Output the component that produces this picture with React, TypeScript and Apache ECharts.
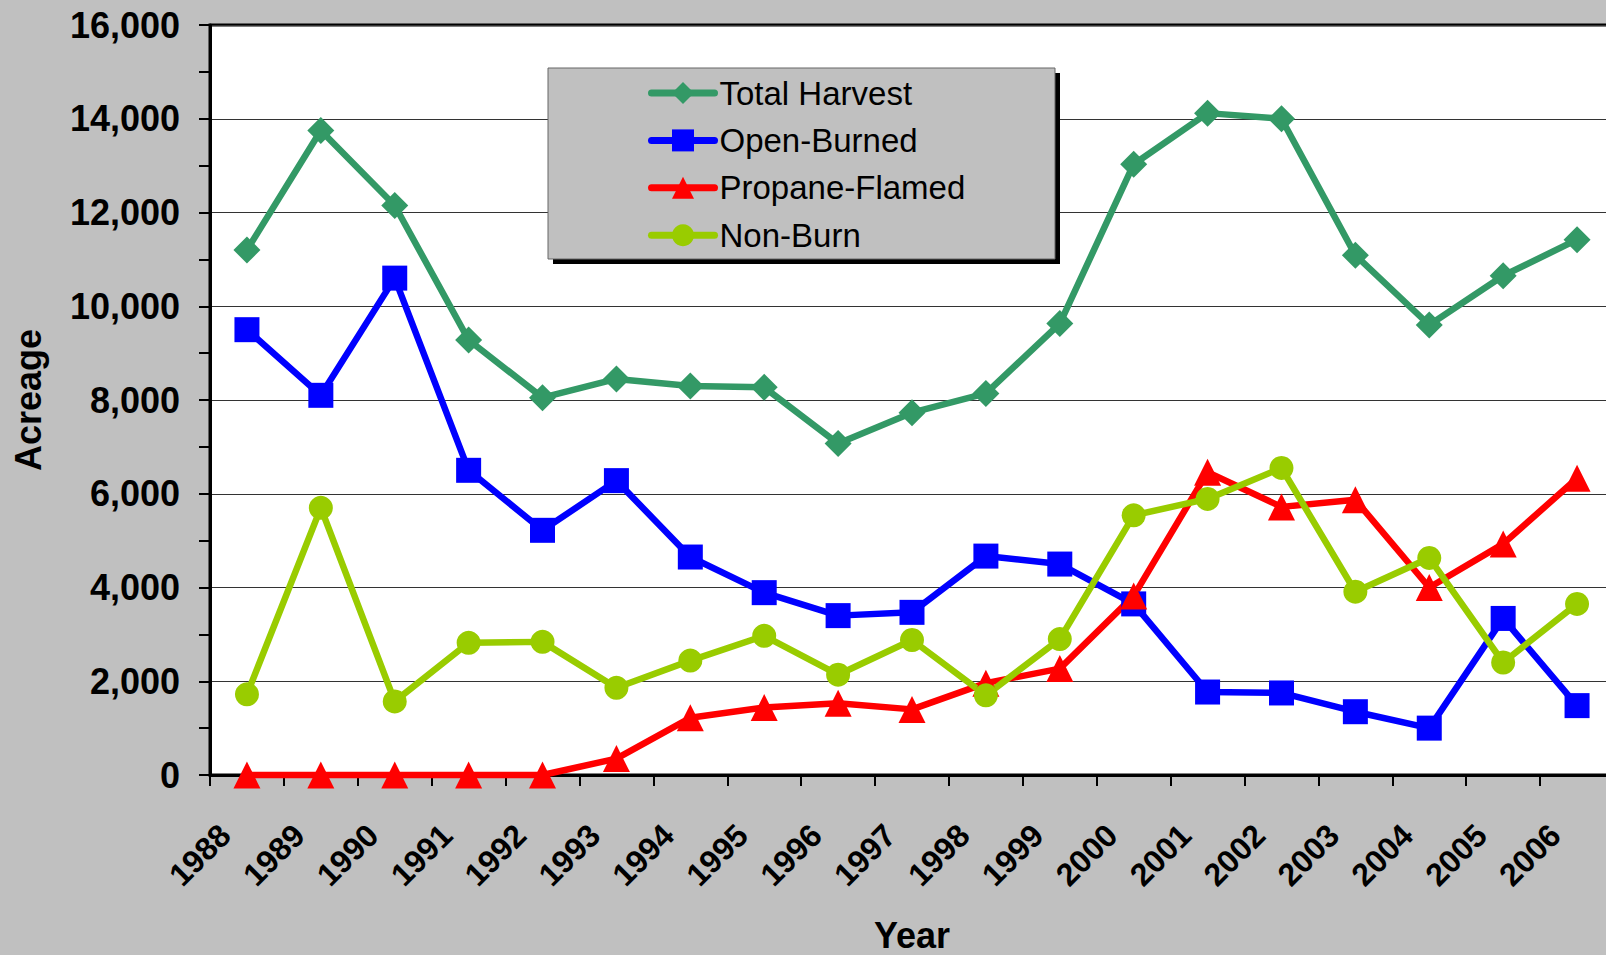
import React, { useEffect, useRef } from 'react';
import * as echarts from 'echarts';

const years = ['1988', '1989', '1990', '1991', '1992', '1993', '1994', '1995', '1996', '1997', '1998', '1999', '2000', '2001', '2002', '2003', '2004', '2005', '2006'];
const totalHarvest = [11200, 13750, 12150, 9280, 8050, 8450, 8300, 8270, 7070, 7730, 8140, 9630, 13030, 14120, 14000, 11090, 9600, 10650, 11420];
const openBurned = [9500, 8100, 10600, 6500, 5220, 6280, 4650, 3890, 3400, 3470, 4670, 4500, 3650, 1770, 1750, 1350, 1000, 3340, 1480];
const propaneFlamed = [0, 0, 0, 0, 0, 350, 1220, 1440, 1530, 1400, 1960, 2270, 3820, 6460, 5720, 5870, 4000, 4930, 6330];
const nonBurn = [1720, 5700, 1570, 2820, 2840, 1860, 2440, 2970, 2140, 2880, 1700, 2900, 5540, 5890, 6550, 3910, 4630, 2400, 3650];

const FONT = '"Liberation Sans", Arial, sans-serif';

export default function App() {
  const ref = useRef<HTMLDivElement>(null);
  useEffect(() => {
    document.body.style.margin = '0';
    const chart = echarts.init(ref.current!, null, { renderer: 'svg' });
    const lineBase = (name: string, data: number[], color: string, symbol: string, size: number) => ({
      name,
      type: 'line',
      data,
      symbol,
      symbolSize: size,
      clip: false,
      itemStyle: { color },
      lineStyle: { color, width: 6.5, cap: 'round', join: 'round' },
      emphasis: { disabled: true },
    });
    chart.setOption({
      animation: false,
      backgroundColor: '#C0C0C0',
      textStyle: { fontFamily: FONT },
      grid: {
        left: 210, top: 25, right: -8, bottom: 180,
        containLabel: false,
        outerBoundsMode: 'none',
        show: true, backgroundColor: '#FFFFFF', borderColor: '#000', borderWidth: 3,
      },
      xAxis: {
        type: 'category',
        data: years,
        boundaryGap: true,
        name: 'Year',
        nameLocation: 'middle',
        nameGap: 142,
        nameTextStyle: { fontSize: 36, lineHeight: 36, fontWeight: 'bold', color: '#000', fontFamily: FONT },
        axisLine: { lineStyle: { color: '#000', width: 3 } },
        axisTick: { show: true, length: 11, lineStyle: { color: '#000', width: 2 } },
        axisLabel: {
          rotate: 45, interval: 0, fontSize: 32, fontWeight: 'bold', color: '#000', margin: 33,
          padding: [0, 31, 0, 0], fontFamily: FONT,
        },
        splitLine: { show: false },
      },
      yAxis: {
        type: 'value',
        min: 0,
        max: 16000,
        interval: 2000,
        name: 'Acreage',
        nameLocation: 'middle',
        nameGap: 164,
        nameTextStyle: { fontSize: 36, fontWeight: 'bold', color: '#000', fontFamily: FONT },
        axisLine: { show: true, lineStyle: { color: '#000', width: 3 } },
        axisTick: { show: true, length: 11, lineStyle: { color: '#000', width: 2 } },
        minorTick: { show: true, splitNumber: 2, length: 11, lineStyle: { color: '#000', width: 2 } },
        axisLabel: {
          fontSize: 36, fontWeight: 'bold', color: '#000', margin: 30, fontFamily: FONT,
          formatter: (v: number) => v.toLocaleString('en-US'),
        },
        splitLine: { lineStyle: { color: '#333', width: 1 } },
      },
      legend: {
        orient: 'vertical',
        left: 648,
        top: 76.5,
        padding: 0,
        itemWidth: 63,
        itemHeight: 27.5,
        itemGap: 14.4,
        z: 10,
        lineStyle: { width: 7, cap: 'round' },
        textStyle: { fontSize: 33, lineHeight: 33, color: '#000', fontFamily: FONT },
        data: ['Total Harvest', 'Open-Burned', 'Propane-Flamed', 'Non-Burn'],
      },
      graphic: [
        { type: 'rect', z: 5, shape: { x: 553, y: 73, width: 507, height: 191 }, style: { fill: '#000' } },
        { type: 'rect', z: 6, shape: { x: 548, y: 68, width: 507, height: 191 }, style: { fill: '#C0C0C0', stroke: '#666', lineWidth: 1 } },
      ],
      series: [
        lineBase('Total Harvest', totalHarvest, '#339966', 'diamond', 27),
        lineBase('Open-Burned', openBurned, '#0000FF', 'rect', 25),
        lineBase('Propane-Flamed', propaneFlamed, '#FF0000', 'triangle', 27),
        lineBase('Non-Burn', nonBurn, '#99CC00', 'circle', 24),
      ],
    });
    return () => chart.dispose();
  }, []);
  return <div ref={ref} style={{ width: 1606, height: 955 }} />;
}
